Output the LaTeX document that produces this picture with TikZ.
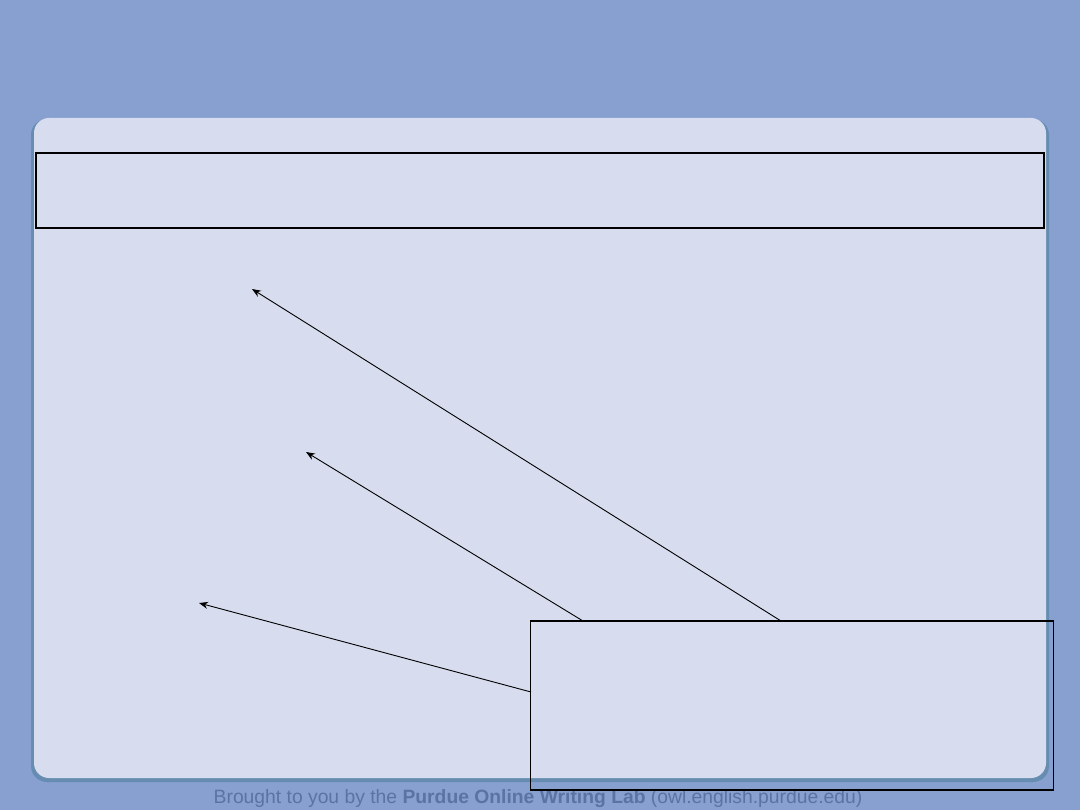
\documentclass[tikz,border=0pt]{standalone}
\usepackage{fontspec}
\setmainfont{Liberation Sans}
\usetikzlibrary{arrows.meta}
\definecolor{bgblue}{HTML}{87A0D0}
\definecolor{panelfill}{HTML}{D7DDEE}
\definecolor{paneledge}{HTML}{5E88AA}
\definecolor{foottext}{HTML}{5A73A3}
\tikzset{
  box/.style={draw=black, line width=1.8pt, fill=none},
  pointer/.style={draw=black, line width=0.9pt, -{Stealth[length=9pt,width=7pt]}},
}
\begin{document}
\begin{tikzpicture}[x=1pt,y=-1pt]
\fill[bgblue] (0,0) rectangle (1080,810);
\useasboundingbox (0,0) rectangle (1080,810);
% panel shadow and panel
\fill[paneledge!80!bgblue, rounded corners=16pt] (31,119) rectangle (1049,782);
\fill[panelfill, rounded corners=15pt] (34,118) rectangle (1046,778);
% footer
\node[text=foottext, font=\fontsize{19.3pt}{21pt}\selectfont, anchor=base] (foot) at (538,803)
  {Brought to you by the \textbf{Purdue Online Writing Lab} (owl.english.purdue.edu)};
% top box
\node[box, minimum width=1008pt, minimum height=75pt, inner sep=0pt] (title) at (540,190.5) {};
% bottom-right box
\node[box, minimum width=523pt, minimum height=169pt, inner sep=0pt] (note) at (792,705.5) {};
% arrow targets
\coordinate (t1) at (252,289);
\coordinate (t2) at (306,452);
\coordinate (t3) at (199,603);
\coordinate (s1) at (781,621);
\coordinate (s2) at (583,621);
\coordinate (s3) at (531,692);
\draw[pointer] (s1) -- (t1);
\draw[pointer] (s2) -- (t2);
\draw[pointer] (s3) -- (t3);
\end{tikzpicture}
\end{document}
